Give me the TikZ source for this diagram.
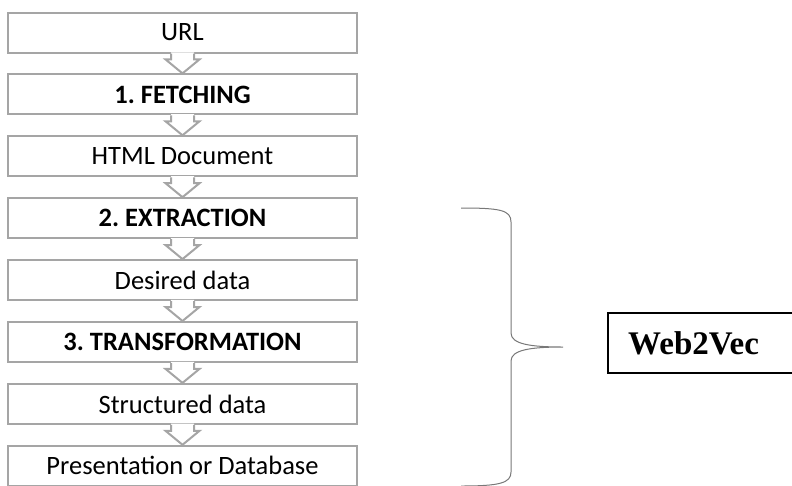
\documentclass[tikz,border=0pt]{standalone}
\usepackage{fontspec}
\setmainfont{Carlito}
\newfontfamily\timesbf{Liberation Serif}
\usetikzlibrary{calc}
\definecolor{boxgray}{RGB}{165,165,165}
\definecolor{bracegray}{RGB}{120,120,120}
\tikzset{
  stepbox/.style={draw=boxgray, line width=2pt, fill=white, minimum width=349pt, minimum height=40pt, inner sep=0pt, font=\fontsize{26.5}{30}\selectfont},
  boldbox/.style={stepbox, font=\fontsize{26.5}{30}\selectfont\bfseries},
  chevline/.style={draw=boxgray, line width=2pt, line join=miter},
  bracestyle/.style={draw=bracegray, line width=1pt},
  namebox/.style={draw=black, line width=1.5pt, minimum height=60pt, inner sep=0pt}
}
\newcommand{\chevron}[2]{%
  \fill[white] ($(#1.south)+(-11.5,-1.2)$) -- ($(#2.north)+(-11.5,-14)$) -- ($(#2.north)+(-17,-14)$) -- (#2.north) -- ($(#2.north)+(17,-14)$) -- ($(#2.north)+(11.5,-14)$) -- ($(#1.south)+(11.5,-1.2)$) -- cycle;
  \draw[chevline] ($(#1.south)+(-11.5,0)$) -- ($(#2.north)+(-11.5,-14)$) -- ($(#2.north)+(-17,-14)$) -- (#2.north) -- ($(#2.north)+(17,-14)$) -- ($(#2.north)+(11.5,-14)$) -- ($(#1.south)+(11.5,0)$);
}
\begin{document}
\frenchspacing
\begin{tikzpicture}[x=1pt, y=-1pt]
\useasboundingbox (0,0) rectangle (792,485);
\node[stepbox] (url) at (182.5,32.5) {URL};
\node[boldbox] (fetch) at (182.5,94.4) {1. FETCHING};
\node[stepbox] (html) at (182.5,156.3) {HTML Document};
\node[boldbox] (extract) at (182.5,218.2) {2. EXTRACTION};
\node[stepbox] (desired) at (182.5,280.1) {Desired data};
\node[boldbox] (transform) at (182.5,342) {3. TRANSFORMATION};
\node[stepbox] (structured) at (182.5,403.9) {Structured data};
\node[stepbox] (present) at (182.5,465.8) {Presentation or Database};
\chevron{url}{fetch}
\chevron{fetch}{html}
\chevron{html}{extract}
\chevron{extract}{desired}
\chevron{desired}{transform}
\chevron{transform}{structured}
\chevron{structured}{present}
% brace
\coordinate (btop) at (461,208);
\coordinate (btip) at (563,347);
\coordinate (bbot) at (461,486);
\draw[bracestyle] (btop) .. controls (500,208) and (511,210) .. (511,222) -- (511,333) .. controls (511,344) and (530,347) .. (btip) .. controls (530,347) and (511,350) .. (511,361) -- (511,472) .. controls (511,483) and (500,486) .. (bbot);
% name box
\node[namebox, minimum width=188pt, anchor=west] (w2v) at (607,343) {};
\node[anchor=west, inner sep=0pt, font=\timesbf\fontsize{33}{36}\selectfont\bfseries] (w2vtext) at (628,343) {Web2Vec};
\end{tikzpicture}
\end{document}
